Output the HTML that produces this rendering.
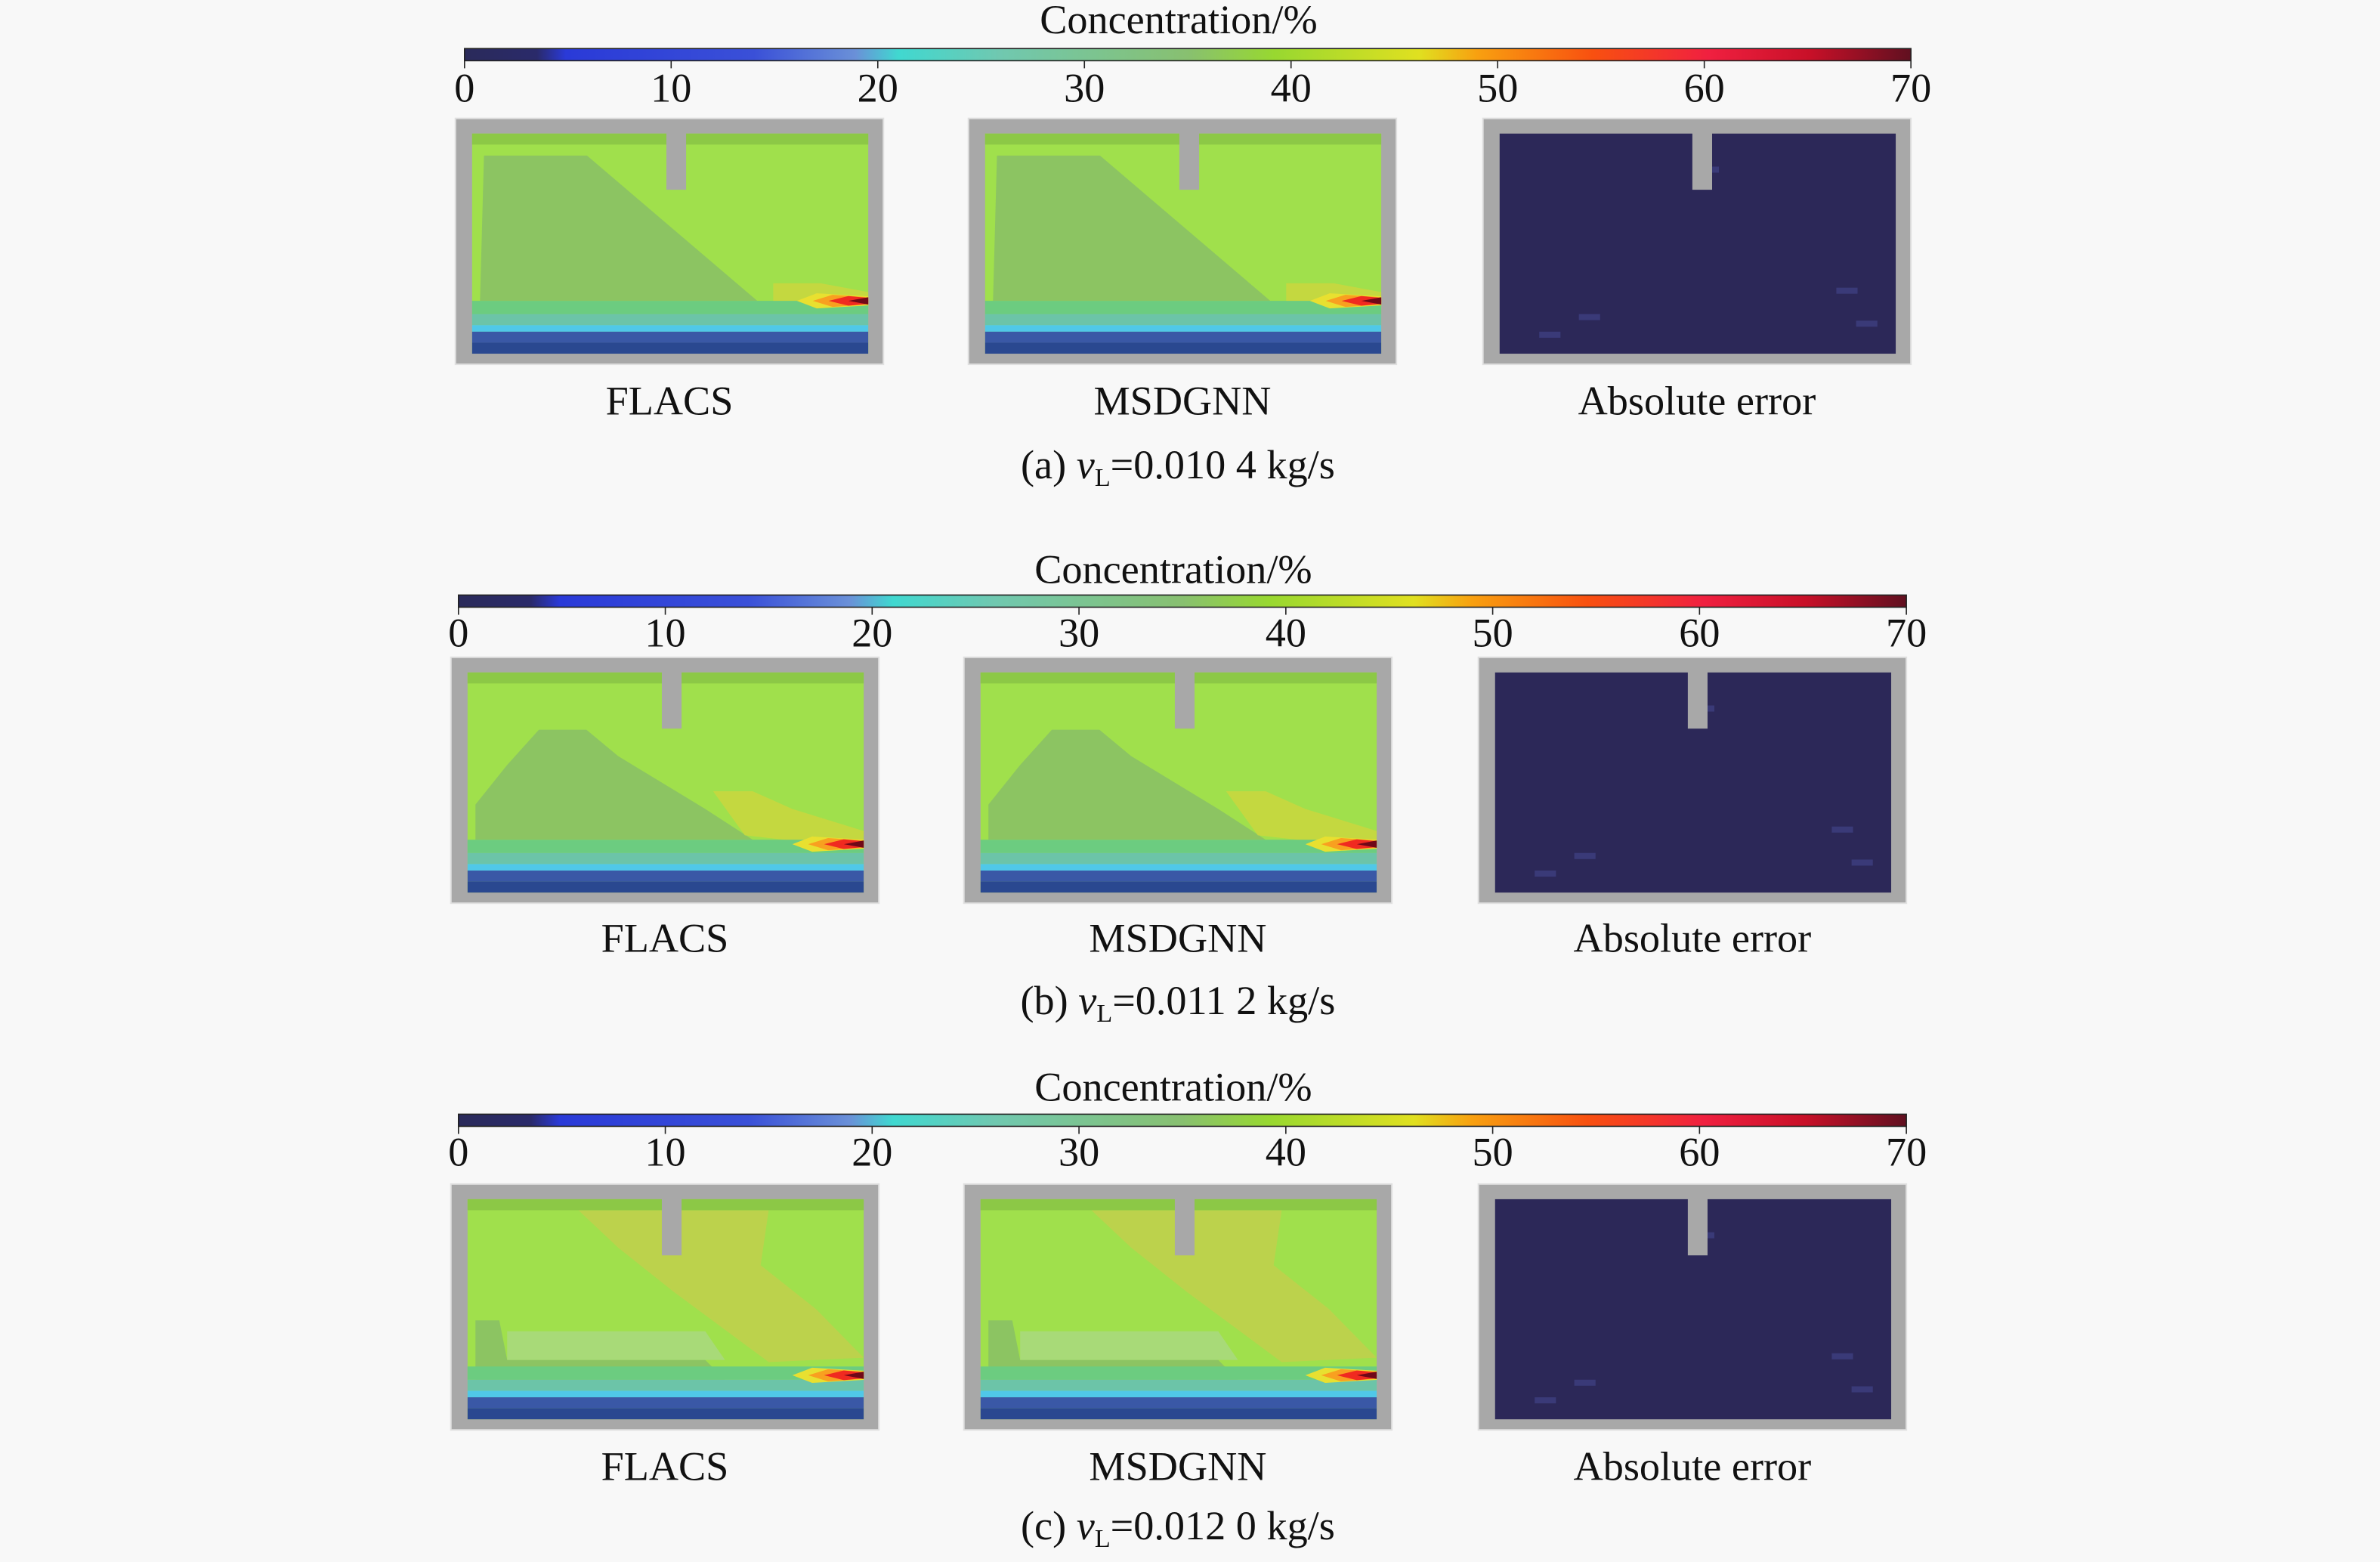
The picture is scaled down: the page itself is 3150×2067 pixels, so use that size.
<!DOCTYPE html>
<html><head><meta charset="utf-8"><style>
html,body{margin:0;padding:0;background:#f8f8f8}
svg{display:block}
text{font-family:"Liberation Serif",serif;fill:#111}
</style></head><body>
<svg id="fig" width="3150" height="2067" viewBox="0 0 1568 1029" xmlns="http://www.w3.org/2000/svg">
<defs>
<linearGradient id="jet" x1="0" x2="1" y1="0" y2="0">
<stop offset="0" stop-color="#2a2a5a"/><stop offset="0.05" stop-color="#2a2a6a"/>
<stop offset="0.07" stop-color="#2a3ad8"/><stop offset="0.2" stop-color="#3a50d8"/>
<stop offset="0.27" stop-color="#6a90d8"/><stop offset="0.3" stop-color="#40d8d0"/>
<stop offset="0.37" stop-color="#70c8b0"/><stop offset="0.5" stop-color="#88c070"/>
<stop offset="0.56" stop-color="#98d830"/><stop offset="0.66" stop-color="#e0e020"/>
<stop offset="0.7" stop-color="#f8a010"/><stop offset="0.78" stop-color="#f85010"/>
<stop offset="0.86" stop-color="#f02040"/><stop offset="0.93" stop-color="#c81028"/>
<stop offset="1" stop-color="#601020"/>
</linearGradient>
</defs>
<g id="root"></g>
</svg>
<script>
const tickValues = [0,10,20,30,40,50,60,70];
const rowNames = ['a','b','c'];
const rowCaptions = [['0.010 4'],['0.011 2'],['0.012 0']];
const panelLabels = ['FLACS','MSDGNN','Absolute error'];
const valueMax = 70;

const NS='http://www.w3.org/2000/svg';
const root=document.getElementById('root');
function mk(tag,attrs,parent){const e=document.createElementNS(NS,tag);for(const k in attrs)e.setAttribute(k,attrs[k]);(parent||root).appendChild(e);return e;}

const rows=[
 {titleY:22,barX:306,barW:953,barY:32,tickY:67,boxY:78,boxX:[300,638,977],labY:273,capY:315},
 {titleY:384,barX:302,barW:954,barY:392,tickY:426,boxY:433,boxX:[297,635,974],labY:627,capY:668},
 {titleY:725,barX:302,barW:954,barY:734,tickY:768,boxY:780,boxX:[297,635,974],labY:975,capY:1014}
];
const BW=282,BH=162;
const FS=27;

const darkPolys=[
 [[0.03,0.1],[0.29,0.1],[0.72,0.76],[0.02,0.76]],
 [[0.02,0.76],[0.02,0.6],[0.1,0.42],[0.18,0.26],[0.3,0.26],[0.38,0.38],[0.6,0.62],[0.72,0.76]],
 [[0.02,0.82],[0.02,0.55],[0.08,0.55],[0.1,0.73],[0.6,0.73],[0.65,0.82]]
];
const lightPolys=[
 [],
 [],
 [[0.1,0.6],[0.6,0.6],[0.65,0.73],[0.1,0.73]]
];
const yellowPolys=[
 [[0.76,0.68],[0.88,0.68],[1,0.72],[1,0.8],[0.76,0.78]],
 [[0.62,0.54],[0.72,0.54],[0.82,0.62],[1,0.72],[1,0.8],[0.7,0.74]],
 [[0.28,0.05],[0.76,0.05],[0.74,0.3],[0.88,0.5],[1,0.72],[0.76,0.74],[0.52,0.42],[0.38,0.22]]
];
const plumeY=[0.76,0.78,0.8];

function poly(pts,x,y,w,h,fill,parent,name){
 const p=mk('polygon',{points:pts.map(q=>(x+q[0]*w).toFixed(1)+','+(y+q[1]*h).toFixed(1)).join(' '),fill:fill},parent);
 
 
 return p;
}

rows.forEach((r,ri)=>{
 const g=mk('g',{});
 
 
 const t=mk('text',{x:r.barX+r.barW/2-6,y:r.titleY,'text-anchor':'middle','font-size':FS},g);
 t.textContent='Concentration/%';
 
 
 const bar=mk('rect',{x:r.barX,y:r.barY,width:r.barW,height:8,fill:'url(#jet)',stroke:'#222','stroke-width':0.8},g);
 
 
 tickValues.forEach(v=>{
  const tx=r.barX+v/valueMax*r.barW;
  const l=mk('line',{x1:tx,x2:tx,y1:r.barY+8,y2:r.barY+13,stroke:'#222','stroke-width':0.8},g);
  
  
  const tt=mk('text',{x:tx,y:r.tickY,'text-anchor':'middle','font-size':FS},g);
  tt.textContent=String(v);
  
  
 });
 r.boxX.forEach((bx,pi)=>{
  const pg=mk('g',{},g);
  
  
  const ob=mk('rect',{x:bx,y:r.boxY,width:BW,height:BH,fill:'#a8a8a8',stroke:'#e0e0e0','stroke-width':1},pg);
  
  
  const ix=bx+11,iy=r.boxY+10,iw=BW-21,ih=BH-17;
  if(pi<2){
   const bg=mk('rect',{x:ix,y:iy,width:iw,height:ih,fill:'#a0e04c'},pg);
   
   
   mk('rect',{x:ix,y:iy,width:iw,height:ih*0.05,fill:'#8cc846'},pg);
   poly(darkPolys[ri],ix,iy,iw,ih,'#8cc462',pg,'low-concentration-region');
   if(lightPolys[ri].length) poly(lightPolys[ri],ix,iy,iw,ih,'#a8da78',pg,'light-region');
   poly(yellowPolys[ri],ix,iy,iw,ih,ri==2?'#bcd24c':'#c4d840',pg,'plume-halo');
   const bands=[[0.76,0.82,'#6ccc80'],[0.82,0.87,'#6cc4a8'],[0.87,0.9,'#50c8e8'],[0.9,0.95,'#3a58a6'],[0.95,1,'#2a4890']];
   bands.forEach(b=>{const br=mk('rect',{x:ix,y:iy+b[0]*ih,width:iw,height:(b[1]-b[0])*ih,fill:b[2]},pg);
    });
   const py=iy+plumeY[ri]*ih;
   const pl=[[0.82,'#e8e030',5],[0.86,'#f8a020',4],[0.9,'#f02a20',3.2],[0.95,'#700818',2.4]];
   pl.forEach(p=>{const e=mk('polygon',{points:`${ix+p[0]*iw},${py} ${ix+(p[0]+0.05)*iw},${py-p[2]} ${ix+iw},${py-p[2]*0.6} ${ix+iw},${py+p[2]*0.6} ${ix+(p[0]+0.05)*iw},${py+p[2]}`,fill:p[1]},pg);
    });
  } else {
   const bg=mk('rect',{x:ix,y:iy,width:iw,height:ih,fill:'#2c2858'},pg);
   
   
   [[0.2,0.82],[0.5,0.15],[0.85,0.7],[0.9,0.85],[0.1,0.9]].forEach(s=>{const sp=mk('rect',{x:ix+s[0]*iw,y:iy+s[1]*ih,width:14,height:4,fill:'#3a3a78'},pg);
    });
  }
  const n=mk('rect',{x:bx+(pi==2?138:139),y:r.boxY+8,width:13,height:39,fill:'#a8a8a8'},pg);
  
  
  const lab=mk('text',{x:bx+BW/2,y:r.labY,'text-anchor':'middle','font-size':FS},g);
  lab.textContent=panelLabels[pi];
  
  
 });
 const cap=mk('text',{x:776,y:r.capY,'text-anchor':'middle','font-size':FS},g);
 
 
 cap.innerHTML='('+rowNames[ri]+') <tspan font-style="italic">v</tspan><tspan font-size="17" dy="5">L</tspan><tspan dy="-5">='+rowCaptions[ri][0]+' kg/s</tspan>';
});
</script>
</body></html>
